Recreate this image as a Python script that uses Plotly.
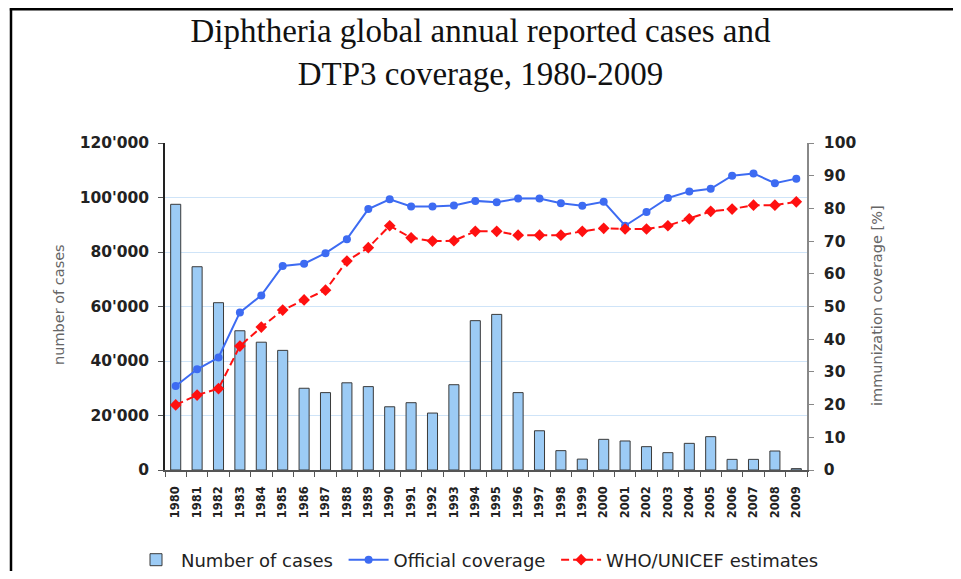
import plotly.graph_objects as go

years = [str(y) for y in range(1980, 2010)]
cases = [97500, 74600, 61400, 51100, 46900, 43900, 30000, 28400, 32000, 30600,
         23200, 24700, 20900, 31300, 54800, 57100, 28400, 14400, 7100, 4000,
         11250, 10650, 8560, 6360, 9780, 12230, 3900, 3900, 6970, 500]
official = [25.7, 30.8, 34.4, 48.2, 53.4, 62.4, 63.1, 66.3, 70.6, 79.8,
            82.8, 80.6, 80.6, 80.9, 82.3, 81.9, 83.0, 83.0, 81.6, 80.8,
            82.0, 74.7, 78.9, 83.2, 85.2, 86.0, 90.0, 90.7, 87.7, 89.1]
who_unicef = [19.9, 22.9, 24.9, 37.9, 43.7, 48.9, 52.0, 55.0, 63.9, 68.0,
              74.7, 71.0, 70.0, 70.1, 73.0, 73.0, 71.8, 71.8, 71.8, 73.0,
              73.9, 73.7, 73.7, 74.7, 76.8, 79.1, 79.8, 81.0, 81.0, 82.0]

# page body has an 8px margin: work in page pixels, convert to figure pixels
OFF = 8
W, H = 961 - 2 * OFF, 579 - 2 * OFF
L, R, T, B = 165 - OFF, 807 - OFF, 143 - OFF, 470 - OFF


def px_x(page_x):
    return (page_x - OFF - L) / (R - L)


def px_y(page_y):
    return (B - (page_y - OFF)) / (B - T)


fig = go.Figure()
fig.add_trace(go.Bar(
    x=years, y=cases, name="Number of cases\u00a0",
    marker=dict(color="#9CCBF5", line=dict(color="#3a3a3a", width=1)),
    width=0.47, yaxis="y"))
fig.add_trace(go.Scatter(
    x=years, y=official, name="Official coverage\u00a0", yaxis="y2",
    mode="lines+markers",
    line=dict(color="#3D6BF2", width=2),
    marker=dict(symbol="circle", size=8, color="#3D6BF2")))
fig.add_trace(go.Scatter(
    x=years, y=who_unicef, name="WHO/UNICEF estimates", yaxis="y2",
    mode="lines+markers",
    line=dict(color="#FF1010", width=2, dash="8px,4px"),
    marker=dict(symbol="diamond", size=9, color="#FF1010")))

tickfont = dict(family="DejaVu Sans", size=15.5, color="#222222", weight="bold")

fig.update_layout(
    width=W, height=H,
    margin=dict(l=L, r=W - R, t=T, b=H - B, autoexpand=False),
    paper_bgcolor="white", plot_bgcolor="white",
    separators=".'",
    showlegend=True,
    title=dict(
        text="Diphtheria global annual reported cases and<br>DTP3 coverage, 1980-2009",
        font=dict(family="Liberation Serif", size=33, color="#111111"),
        x=0.5, xref="container", xanchor="center",
        y=1 - 34 / H, yref="container", yanchor="middle"),
    xaxis=dict(
        type="category", categoryorder="array", categoryarray=years,
        range=[-0.5, 29.5],
        showline=True, linecolor="#555555", linewidth=1.5,
        ticks="outside", tickson="boundaries", ticklen=5, tickcolor="#555555",
        tickangle=-90, ticklabelstandoff=10,
        tickfont=dict(family="DejaVu Sans", size=11.5, color="#222222", weight="bold"),
        showgrid=False, zeroline=False),
    yaxis=dict(
        range=[0, 120000], dtick=20000, tickformat=",d",
        showline=True, linecolor="#222222", linewidth=1.5,
        ticks="outside", ticklen=5, tickcolor="#555555",
        ticklabelstandoff=6,
        tickfont=tickfont,
        showgrid=True, gridcolor="#CFE4F8", gridwidth=1,
        zeroline=False),
    yaxis2=dict(
        range=[0, 100], dtick=10, overlaying="y", side="right",
        showline=True, linecolor="#888888", linewidth=1.5,
        ticks="outside", ticklen=5, tickcolor="#888888",
        ticklabelstandoff=7,
        tickfont=tickfont,
        showgrid=False, zeroline=False),
    legend=dict(
        orientation="h", x=px_x(131), xref="paper", xanchor="left",
        y=px_y(560), yref="paper", yanchor="middle",
        font=dict(family="DejaVu Sans", size=18, color="#222222"),
        itemwidth=40, traceorder="normal",
        bgcolor="rgba(0,0,0,0)"),
    bargap=0.53,
    annotations=[
        dict(text="number of cases", textangle=-90, showarrow=False,
             xref="paper", yref="paper", x=px_x(59), y=px_y(305),
             xanchor="center", yanchor="middle",
             font=dict(family="DejaVu Sans", size=14.5, color="#666666")),
        dict(text="immunization coverage [%]", textangle=-90, showarrow=False,
             xref="paper", yref="paper", x=px_x(877), y=px_y(305),
             xanchor="center", yanchor="middle",
             font=dict(family="DejaVu Sans", size=14.5, color="#666666")),
    ],
    shapes=[
        dict(type="line", xref="paper", yref="paper",
             x0=px_x(11), x1=px_x(11), y0=px_y(600), y1=px_y(OFF + 0.2),
             line=dict(color="black", width=2.5), layer="above"),
        dict(type="line", xref="paper", yref="paper",
             x0=px_x(9.8), x1=px_x(990), y0=px_y(OFF + 1.2), y1=px_y(OFF + 1.2),
             line=dict(color="black", width=2.5), layer="above"),
    ],
)

fig.write_html("out.html")
